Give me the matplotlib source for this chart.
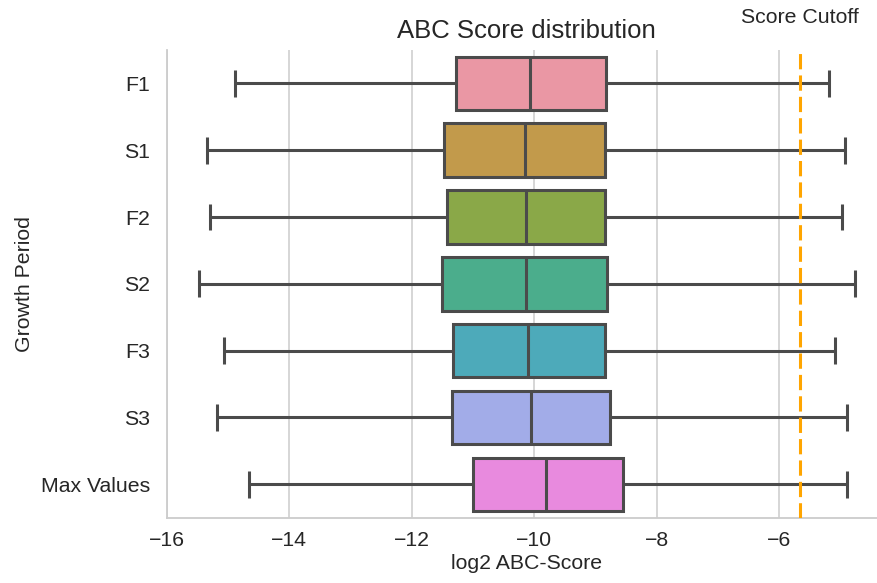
import matplotlib
matplotlib.use("Agg")
import matplotlib.pyplot as plt
import seaborn as sns

# ---- data ----
categories = ["F1", "S1", "F2", "S2", "F3", "S3", "Max Values"]
whisker_low = [-14.88, -15.35, -15.29, -15.47, -15.07, -15.18, -14.65]
q1 = [-11.27, -11.47, -11.42, -11.51, -11.33, -11.35, -11.00]
median = [-10.07, -10.15, -10.13, -10.14, -10.10, -10.05, -9.80]
q3 = [-8.83, -8.84, -8.84, -8.81, -8.84, -8.77, -8.55]
whisker_high = [-5.19, -4.92, -4.97, -4.77, -5.09, -4.90, -4.90]
cutoff = -5.66
title = "ABC Score distribution"
xlabel = "log2 ABC-Score"
ylabel = "Growth Period"
cutoff_label = "Score Cutoff"
box_colors = ["#EA97A4", "#C29A4B", "#8AA848", "#4BAD8C", "#4DAABA", "#A2ACE8", "#E88ADE"]

sns.set_style("whitegrid")
plt.rcParams['font.family'] = ['Liberation Sans', 'DejaVu Sans']

W, H = 877, 583
fig = plt.figure(figsize=(W / 100, H / 100), dpi=100)
left, right, top, bottom = 166.7, 887.0, 50.0, 517.7
ax = fig.add_axes([left / W, 1 - bottom / H, (right - left) / W, (bottom - top) / H])

linecol = "#4b4b4b"
lw = 2.2

stats = []
for i, cat in enumerate(categories):
    stats.append(dict(label=cat, whislo=whisker_low[i], q1=q1[i], med=median[i],
                      q3=q3[i], whishi=whisker_high[i], fliers=[]))

bp = ax.bxp(stats, positions=list(range(len(categories))), vert=False,
            widths=0.8, patch_artist=True, showfliers=False,
            boxprops=dict(edgecolor=linecol, linewidth=lw),
            whiskerprops=dict(color=linecol, linewidth=lw),
            capprops=dict(color=linecol, linewidth=lw),
            medianprops=dict(color=linecol, linewidth=lw),
            capwidths=0.4)
for patch, c in zip(bp['boxes'], box_colors):
    patch.set_facecolor(c)
for k in ['whiskers', 'caps', 'medians']:
    for l in bp[k]:
        l.set_solid_capstyle('butt')

ax.axvline(cutoff, color='orange', linewidth=lw, linestyle=(0, (5, 2)), zorder=3)

ax.set_xlim(-16.0, -4.24)
ax.set_ylim(len(categories) - 0.5, -0.5)
ax.set_xticks([-16, -14, -12, -10, -8, -6])
ax.set_yticks(range(len(categories)))
ax.set_yticklabels(categories)

ax.grid(True, axis='x', color='#cccccc', linewidth=1.1)
ax.grid(False, axis='y')
ax.set_axisbelow(True)

fs = 15.3
ax.tick_params(axis='x', length=0, pad=9.5, labelsize=fs, colors='#262626')
ax.tick_params(axis='y', length=0, pad=12, labelsize=fs, colors='#262626')
ax.set_xlabel(xlabel, fontsize=fs, labelpad=3, color='#262626')
ax.set_ylabel(ylabel, fontsize=fs, labelpad=5, color='#262626')
ax.set_title(title, fontsize=18.5, pad=9, color='#262626')

for s in ['top', 'right']:
    ax.spines[s].set_visible(False)
for s in ['left', 'bottom']:
    ax.spines[s].set_color('#cccccc')
    ax.spines[s].set_linewidth(1.3)

ax.annotate(cutoff_label, xy=(cutoff, 1.0), xycoords=('data', 'axes fraction'),
            xytext=(0, 19.5), textcoords='offset points', ha='center', va='baseline',
            fontsize=fs, color='#262626', annotation_clip=False)

fig.savefig("out.png", dpi=100)
